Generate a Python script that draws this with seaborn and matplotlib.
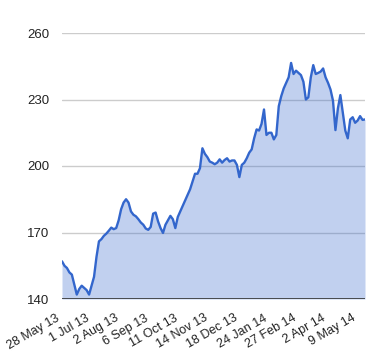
import numpy as np
import pandas as pd
import matplotlib
matplotlib.use("Agg")
import matplotlib.pyplot as plt
import matplotlib.transforms as mtransforms
import seaborn as sns

# closing price, one value every 2 trading days
price = [157, 155, 154, 152, 151, 146.5, 142, 144.5, 146, 145,
         144, 142, 146, 150, 159, 166, 167, 168.5, 169.5, 170.8,
         172.2, 171.5, 172, 175.5, 180.5, 183.5, 185, 183.5, 179.5, 178,
         177.3, 176, 174.5, 173.5, 171.8, 171.2, 172.5, 178.5, 179, 175,
         172, 169.8, 173.5, 175.5, 177.5, 176, 172, 177, 179.5, 182,
         184.5, 187, 189.5, 193, 196.5, 196.5, 199, 208, 205.5, 204,
         202, 201.5, 200.8, 201.5, 203, 201.5, 202.7, 203.5, 202, 202.5,
         202.5, 200.5, 195, 200.5, 201.5, 203.5, 206, 207.5, 212.5, 216.5,
         216, 219, 225.5, 214, 215, 215, 212, 214, 227, 231.5,
         235, 237.5, 240, 246.5, 241.5, 243, 242, 241, 238, 230,
         231, 240, 245.5, 241.5, 242, 242.6, 244, 240, 237.5, 234.5,
         229.5, 216.2, 226, 232, 224, 216, 212.5, 221, 222, 219.5,
         220.5, 222.5, 220.8, 221]
step = 2
tick_every = 24
tick_labels = ["28 May 13", "1 Jul 13", "2 Aug 13", "6 Sep 13", "11 Oct 13",
               "14 Nov 13", "18 Dec 13", "24 Jan 14", "27 Feb 14", "2 Apr 14",
               "9 May 14"]
y_ticks = [140, 170, 200, 230, 260]

df = pd.DataFrame({"day": np.arange(len(price)) * step, "price": price})

sns.set_style("white")
plt.rcParams["font.family"] = ["Liberation Sans", "DejaVu Sans"]

fig = plt.figure(figsize=(3.8, 3.6), dpi=100)
ax = fig.add_axes([62 / 380, 1 - 299 / 360, 303 / 380, 266 / 360])

for v in y_ticks[1:]:
    ax.axhline(v, color="#cccccc", lw=1, zorder=0)

ax.fill_between(df["day"], y_ticks[0], df["price"], color="#3366cc",
                alpha=0.3, lw=0, zorder=1)
sns.lineplot(data=df, x="day", y="price", ax=ax, color="#3366cc", lw=1.7,
             zorder=2)
ax.axhline(y_ticks[0], color="#333333", lw=1.2, zorder=3)

ax.set_xlim(0, df["day"].iloc[-1])
ax.set_ylim(y_ticks[0], y_ticks[-1])
ax.set_yticks(y_ticks)
ax.set_xticks(np.arange(len(tick_labels)) * tick_every)
ax.set_xticklabels(tick_labels, rotation=30, ha="right",
                   rotation_mode="anchor")
ax.tick_params(axis="y", length=0, pad=9, labelsize=9.5, labelcolor="#222222")
ax.tick_params(axis="x", length=0, pad=8, labelsize=9, labelcolor="#222222")
shift = mtransforms.ScaledTranslation(-6 / 100, -2 / 100, fig.dpi_scale_trans)
for lab in ax.get_xticklabels():
    lab.set_transform(lab.get_transform() + shift)
ax.set_xlabel("")
ax.set_ylabel("")
for s in ax.spines.values():
    s.set_visible(False)

fig.savefig("out.png", dpi=100)
